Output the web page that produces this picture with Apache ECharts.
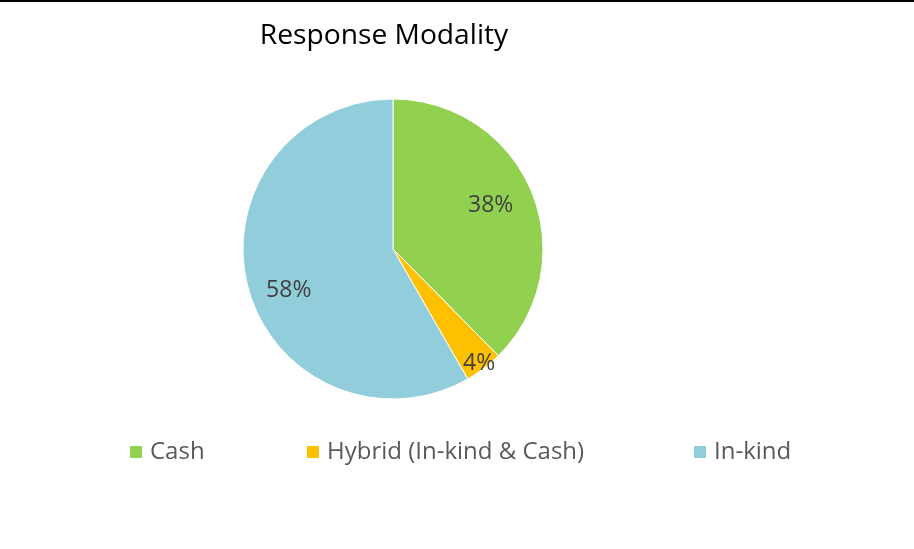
<!DOCTYPE html>
<html>
<head>
<meta charset="utf-8">
<script src="https://cdn.jsdelivr.net/npm/echarts@6/dist/echarts.min.js"></script>
<style>
  html, body { margin: 0; padding: 0; background: #fff; }
  #chart { width: 914px; height: 549px; }
</style>
</head>
<body>
<div id="chart"></div>
<script>
// data
const categories = ["Cash", "Hybrid (In-kind & Cash)", "In-kind"];
const shares = [37.6, 4.1, 58.3];
const colors = ["#92D050", "#FFC000", "#92CDDC"];

const FONT = "Open Sans";
const chart = echarts.init(document.getElementById("chart"));

const pieData = categories.map((name, i) => ({
  name,
  value: shares[i],
  itemStyle: { color: colors[i] },
}));

// label-only copy; nudges mimic Excel's best-fit placement
const labelOffsets = [[-5, -1], [19, 26], [3, 13]];
const labelData = categories.map((name, i) => ({
  name,
  value: shares[i],
  label: { offset: labelOffsets[i] },
}));

const legendLefts = [128, 305, 692];

chart.setOption({
  animation: false,
  title: {
    text: "Response Modality",
    left: 379,
    top: 17,
    textAlign: "center",
    textStyle: { fontFamily: FONT, fontSize: 28.2, fontWeight: "normal", color: "#000" },
  },
  legend: categories.map((name, i) => ({
    data: [{ name, itemStyle: { color: colors[i] } }],
    left: legendLefts[i],
    top: 440,
    padding: 0,
    icon: "rect",
    itemWidth: 14,
    itemHeight: 14,
    itemGap: 8,
    selectedMode: false,
    textStyle: { fontFamily: FONT, fontSize: 24, color: "#595959", padding: [0, 0, 0, 2] },
  })),
  graphic: [
    { type: "rect", shape: { x: 0, y: 0, width: 914, height: 2 }, style: { fill: "#000" } },
  ],
  series: [
    {
      type: "pie",
      center: [393, 249],
      radius: [0, 150],
      startAngle: 90,
      clockwise: true,
      silent: true,
      label: { show: false },
      labelLine: { show: false },
      itemStyle: { borderColor: "#fff", borderWidth: 1 },
      data: pieData,
    },
    {
      type: "pie",
      center: [393, 249],
      radius: [66, 150],
      startAngle: 90,
      clockwise: true,
      silent: true,
      itemStyle: { color: "rgba(0,0,0,0)" },
      label: {
        show: true,
        position: "inside",
        fontFamily: FONT,
        fontSize: 23,
        color: "#404040",
        formatter: (p) => Math.round(p.value) + "%",
      },
      labelLine: { show: false },
      data: labelData,
    },
  ],
});
</script>
</body>
</html>
